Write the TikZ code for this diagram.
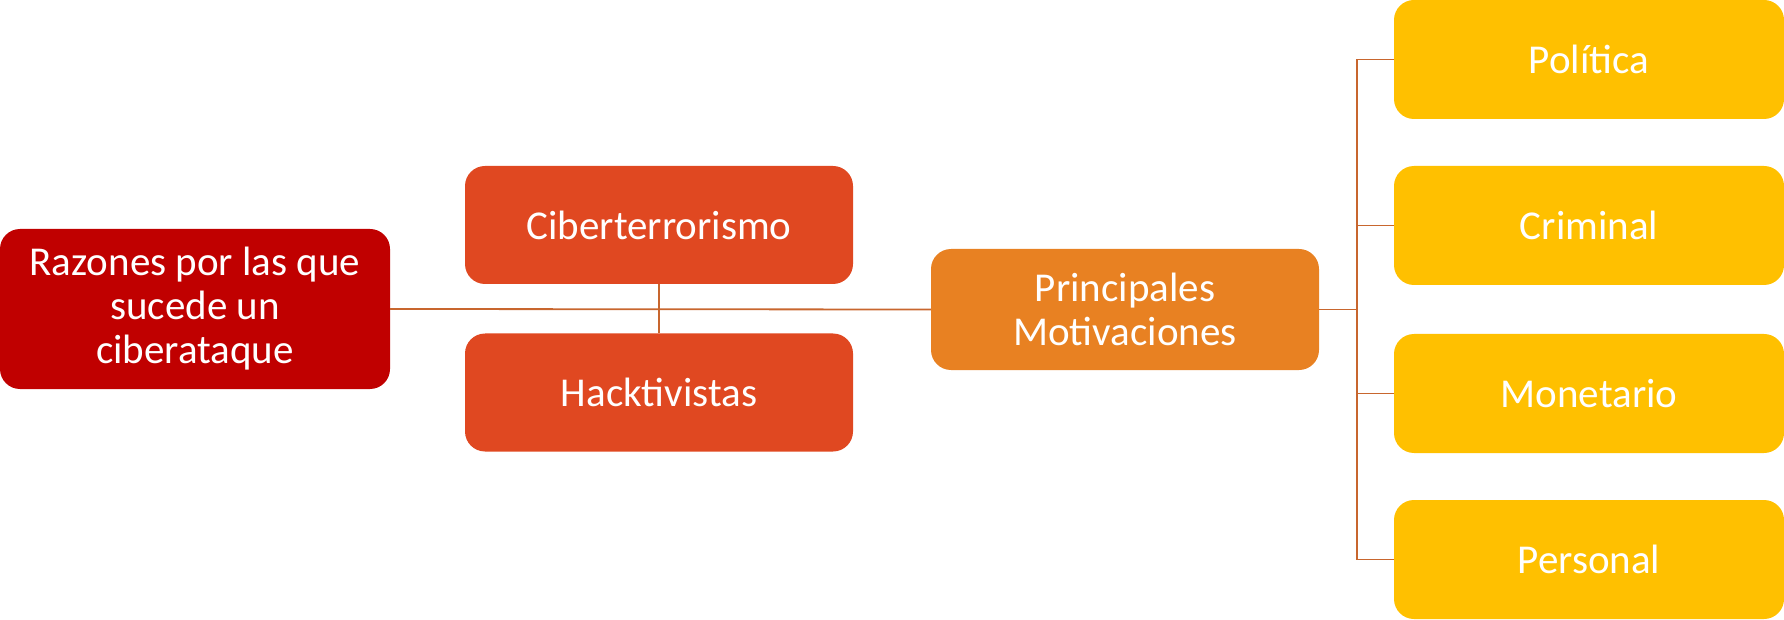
\documentclass[tikz,border=0pt]{standalone}
\usepackage{fontspec}
\setmainfont{Carlito}
\definecolor{rootred}{HTML}{C00000}
\definecolor{midred}{HTML}{E04821}
\definecolor{pmorange}{HTML}{E88122}
\definecolor{leafyellow}{HTML}{FFC000}
\definecolor{linkc}{HTML}{C8662E}
\begin{document}
\begin{tikzpicture}[x=1pt,y=1pt,
  box/.style={rectangle, rounded corners=20pt, draw=none, text=white, align=center,
    font=\fontsize{41}{44}\selectfont, inner sep=0pt},
  rootbox/.style={box, fill=rootred, minimum width=390pt, minimum height=160pt},
  midbox/.style={box, fill=midred, minimum width=388pt, minimum height=118pt},
  pmbox/.style={box, fill=pmorange, minimum width=388pt, minimum height=121pt},
  leafbox/.style={box, fill=leafyellow, minimum width=390pt, minimum height=119pt},
  link/.style={draw=linkc, line width=1.8pt}]
\useasboundingbox (0,0) rectangle (1784,619);
\node[rootbox] (root) at (195,310) {Razones por las que\\sucede un\\ciberataque};
\node[midbox] (cib) at (659,394) {Ciberterrorismo};
\node[midbox] (hack) at (659,226.5) {Hacktivistas};
\node[pmbox] (pm) at (1125,309.5) {Principales\\Motivaciones};
\node[leafbox] (pol) at (1589,559.5) {Política};
\node[leafbox] (cri) at (1589,393.5) {Criminal};
\node[leafbox] (mon) at (1589,225.5) {Monetario};
\node[leafbox] (per) at (1589,59.5) {Personal};
\coordinate (bus) at (1357,309.5);
\draw[link] (root.east) -- (pm.west);
\draw[link] (cib.south) -- (hack.north);
\draw[link] (pm.east) -- (bus);
\draw[link] (bus |- pol.west) -- (bus |- per.west);
\draw[link] (bus |- pol.west) -- (pol.west);
\draw[link] (bus |- cri.west) -- (cri.west);
\draw[link] (bus |- mon.west) -- (mon.west);
\draw[link] (bus |- per.west) -- (per.west);
\end{tikzpicture}
\end{document}
